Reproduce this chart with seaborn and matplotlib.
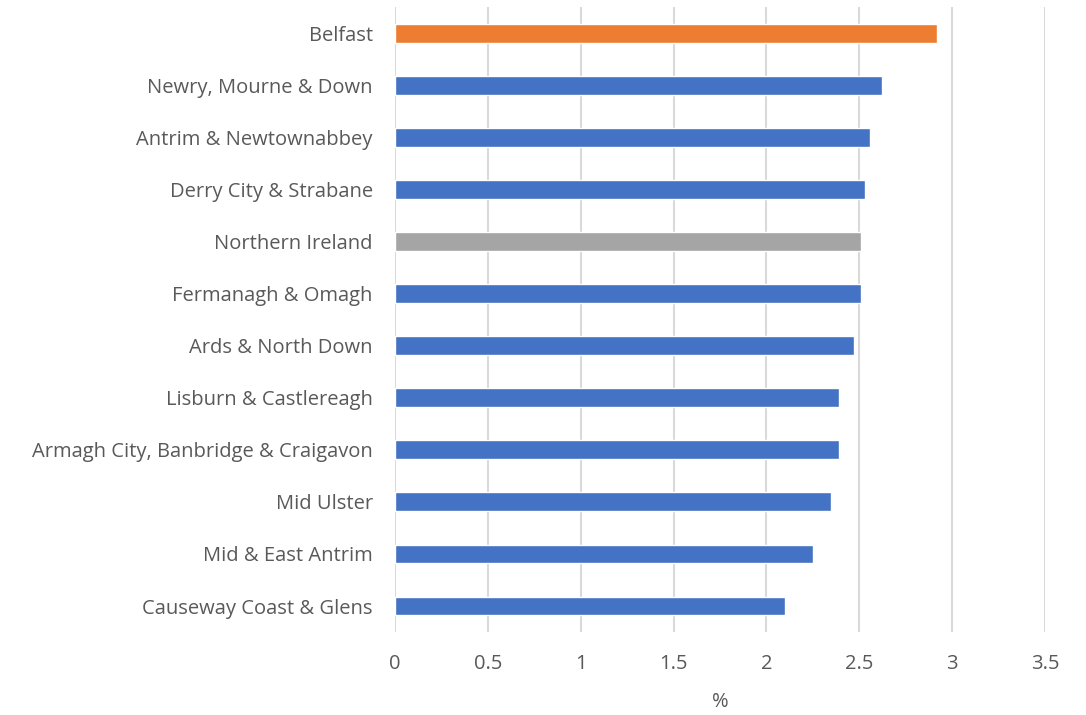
import matplotlib
matplotlib.use("Agg")
import matplotlib.pyplot as plt
import seaborn as sns
import pandas as pd

areas = [
    "Belfast",
    "Newry, Mourne & Down",
    "Antrim & Newtownabbey",
    "Derry City & Strabane",
    "Northern Ireland",
    "Fermanagh & Omagh",
    "Ards & North Down",
    "Lisburn & Castlereagh",
    "Armagh City, Banbridge & Craigavon",
    "Mid Ulster",
    "Mid & East Antrim",
    "Causeway Coast & Glens",
]
values = [2.92, 2.62, 2.56, 2.53, 2.51, 2.51, 2.47, 2.39, 2.39, 2.35, 2.25, 2.10]
x_ticks = [0, 0.5, 1, 1.5, 2, 2.5, 3, 3.5]
x_tick_labels = ["0", "0.5", "1", "1.5", "2", "2.5", "3", "3.5"]

BLUE = "#4472C4"
ORANGE = "#ED7D31"
GREY = "#A5A5A5"
palette = {a: BLUE for a in areas}
palette["Belfast"] = ORANGE
palette["Northern Ireland"] = GREY

df = pd.DataFrame({"area": areas, "value": values})

sns.set_theme(style="white")
plt.rcParams["font.family"] = ["Open Sans", "DejaVu Sans"]

fig = plt.figure(figsize=(10.86, 7.15), dpi=100)
ax = fig.add_axes([0.3637, 0.116, 0.5985, 0.874])

sns.barplot(data=df, x="value", y="area", hue="area", palette=palette,
            order=areas, hue_order=areas, dodge=False, legend=False,
            width=0.36, saturation=1, orient="h", ax=ax)

ax.set_xlim(0, 3.5)
ax.set_ylim(len(areas) - 0.5, -0.5)
ax.set_xticks(x_ticks)
ax.set_xticklabels(x_tick_labels)
ax.xaxis.grid(True, color="#D9D9D9", linewidth=1.5)
ax.set_axisbelow(True)
for s in ax.spines.values():
    s.set_visible(False)

ax.tick_params(axis="both", length=0, labelsize=14.5, labelcolor="#595959")
ax.tick_params(axis="x", pad=16)
ax.tick_params(axis="y", pad=16)
ax.set_ylabel("")
ax.set_xlabel("%", fontsize=14.5, color="#595959", labelpad=13)

fig.savefig("out.png", dpi=100)
